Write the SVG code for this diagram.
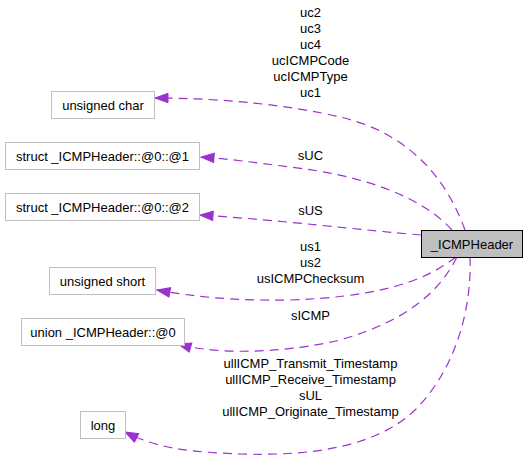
<svg xmlns="http://www.w3.org/2000/svg" width="528" height="468" viewBox="0 0 528 468">
<defs>
<style>
.node rect{fill:#ffffff;stroke:#bfbfbf;stroke-width:1}
.node.main rect{fill:#bfbfbf;stroke:#000000}
text{font-family:"Liberation Sans",Arial,sans-serif;font-size:13px;fill:#000000;text-anchor:middle}
.edge{fill:none;stroke:#9a32cd;stroke-width:1.2;stroke-dasharray:9,6;marker-end:url(#arr)}
</style>
<marker id="arr" markerUnits="userSpaceOnUse" markerWidth="16" markerHeight="12" refX="14" refY="6" orient="auto">
<polygon points="1,1.3 14,6 1,10.7" fill="#9a32cd" stroke="#9a32cd" stroke-width="1"/>
</marker>
</defs>
<rect width="528" height="468" fill="#ffffff"/>
<g id="connectors">
<path class="edge" d="M465,230 C447,180 410,133 340,117 C290,105 220,98 155,98"/>
<path class="edge" d="M452,230 C420,195 360,175 290,167 C250,162 230,159 201,157"/>
<path class="edge" d="M421,235 C360,230 280,220 200,215"/>
<path class="edge" d="M456,257 C420,285 370,297 290,300 C230,301 190,296 157,290"/>
<path class="edge" d="M457,257 C440,290 410,320 340,340 C290,352 220,356 178,344"/>
<path class="edge" d="M470,257 C472,310 455,370 415,410 C375,448 310,456 240,454 C195,452 160,450 125,432"/>
<g id="labels">
<text x="310.5" y="17">uc2</text>
<text x="310.5" y="33">uc3</text>
<text x="310.5" y="49">uc4</text>
<text x="310.5" y="65">ucICMPCode</text>
<text x="310.5" y="81">ucICMPType</text>
<text x="310.5" y="97">uc1</text>
<text x="310.5" y="160">sUC</text>
<text x="310.5" y="215">sUS</text>
<text x="310.5" y="251">us1</text>
<text x="310.5" y="267">us2</text>
<text x="310.5" y="283">usICMPChecksum</text>
<text x="310.5" y="320">sICMP</text>
<text x="310.5" y="368">ullICMP_Transmit_Timestamp</text>
<text x="310.5" y="384">ullICMP_Receive_Timestamp</text>
<text x="310.5" y="400">sUL</text>
<text x="310.5" y="416">ullICMP_Originate_Timestamp</text>
</g>
</g>
<g id="node_main" class="node main"><rect x="421.5" y="230.5" width="101" height="27"/><text x="472" y="248.5">_ICMPHeader</text></g>
<g id="node_uchar" class="node"><rect x="51.5" y="91.5" width="103" height="27"/><text x="103" y="109.5">unsigned char</text></g>
<g id="node_s1" class="node"><rect x="5.5" y="142.5" width="194" height="27"/><text x="102.5" y="160.5">struct _ICMPHeader::@0::@1</text></g>
<g id="node_s2" class="node"><rect x="5.5" y="193.5" width="194" height="27"/><text x="102.5" y="211.5">struct _ICMPHeader::@0::@2</text></g>
<g id="node_ushort" class="node"><rect x="49.5" y="267.5" width="106" height="27"/><text x="102.5" y="285.5">unsigned short</text></g>
<g id="node_union" class="node"><rect x="21.5" y="318.5" width="163" height="27"/><text x="103" y="336.5">union _ICMPHeader::@0</text></g>
<g id="node_long" class="node"><rect x="80.5" y="411.5" width="45" height="27"/><text x="103" y="429.5">long</text></g>
</svg>
